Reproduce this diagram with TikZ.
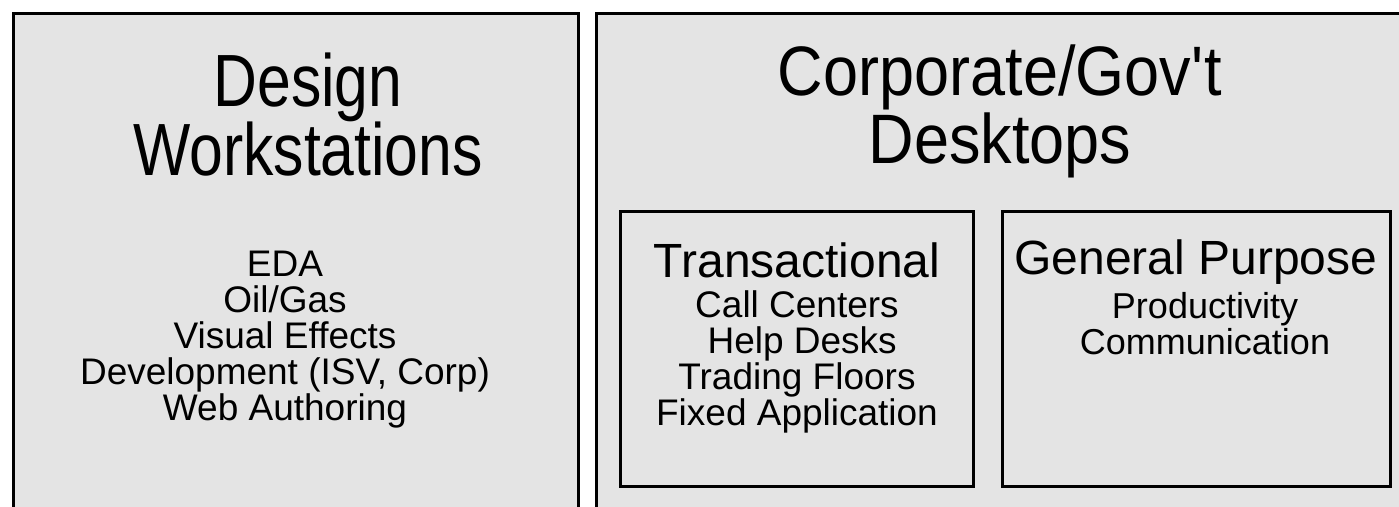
\documentclass[tikz,border=0pt]{standalone}
\usepackage{fontspec}
\setmainfont{Liberation Sans}
\newfontfamily\designfont{Liberation Sans}[FakeStretch=0.82]
\newfontfamily\corpfont{Liberation Sans}[FakeStretch=0.9]
\usepackage{tikz}

\definecolor{panelgrey}{HTML}{E4E4E4}

\tikzset{
  panel/.style={draw=black, line width=3pt, fill=panelgrey, anchor=north west, inner sep=0pt},
  subpanel/.style={draw=black, line width=2.5pt, fill=panelgrey, anchor=north west, inner sep=0pt},
  bigtitle/.style={align=center},
  midtitle/.style={align=center, font=\fontsize{48}{53}\selectfont},
  itemlist/.style={align=center, font=\fontsize{37}{36}\selectfont}
}

\begin{document}
\begin{tikzpicture}[x=1pt, y=-1pt]
\useasboundingbox (0,0) rectangle (1399,506);

% outer panels
\node[panel, minimum width=565pt, minimum height=520pt](design) at (12,12) {};
\node[panel, minimum width=830pt, minimum height=520pt](corp) at (595,12) {};

% inner panels
\node[subpanel, minimum width=353pt, minimum height=275pt](trans) at (619,210) {};
\node[subpanel, minimum width=388pt, minimum height=275pt](general) at (1001,210) {};

% texts
\node[bigtitle, font=\designfont\fontsize{74}{69}\selectfont](designtitle) at (308,115) {Design\\Workstations};
\node[itemlist](designlist) at (285,340) {EDA\\Oil/Gas\\Visual Effects\\Development (ISV, Corp)\\Web Authoring};

\node[bigtitle, font=\corpfont\fontsize{70}{68}\selectfont](corptitle) at (1000,111) {Corporate/Gov\textquotesingle t\\Desktops};

\node[midtitle](transtitle) at (797,260) {Transactional};
\node[itemlist](translist) at (797,362) {Call Centers\\\ Help Desks\\Trading Floors\\Fixed Application};

\node[midtitle](generaltitle) at (1196,262) {General Purpose};
\node[itemlist, font=\fontsize{36}{36}\selectfont](generallist) at (1205,324) {Productivity\\Communication};
\end{tikzpicture}
\end{document}
